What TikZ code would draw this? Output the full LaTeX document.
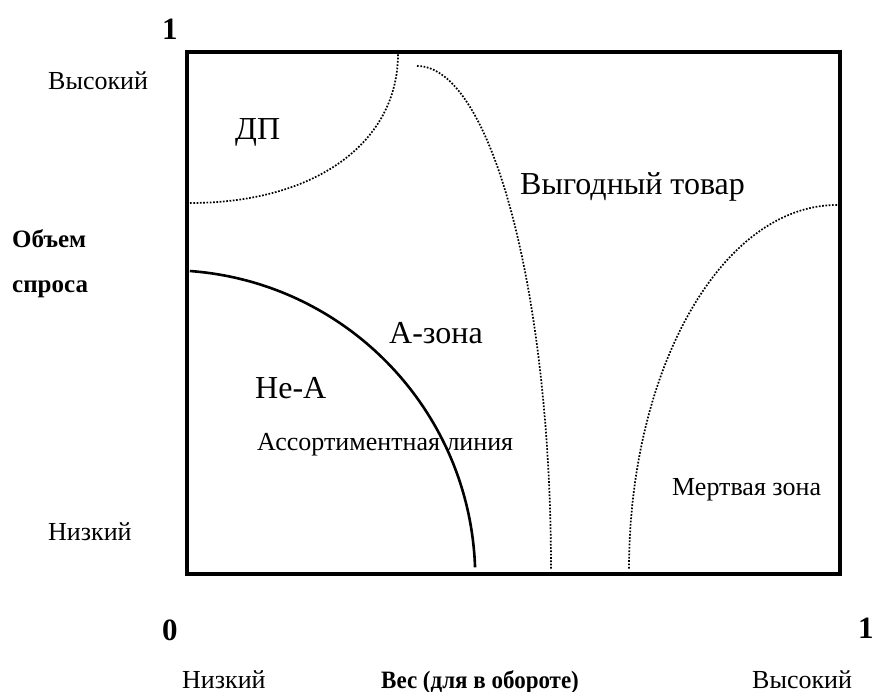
\documentclass[tikz,border=0pt]{standalone}
\usepackage{fontspec}
\setmainfont{Liberation Serif}
\usepackage{tikz}

\begin{document}
\begin{tikzpicture}[x=1pt,y=1pt,
lbl/.style={font=\fontsize{26}{28}\selectfont,inner sep=0pt,anchor=base west},
big/.style={font=\fontsize{32}{34}\selectfont,inner sep=0pt,anchor=base west},
ax/.style={font=\bfseries\fontsize{25}{27}\selectfont,inner sep=0pt,anchor=base west},
num/.style={font=\bfseries\fontsize{31}{33}\selectfont,inner sep=0pt,anchor=base west},
dots/.style={line width=1.7pt,dash pattern=on 1.7pt off 1.6pt},
frame/.style={line width=4.5pt},
solid line/.style={line width=2.6pt}]
\useasboundingbox (0,0) rectangle (872,-692);
% the square
\coordinate (orig) at (187,-574);
\coordinate (corner) at (840,-52);
\draw[frame] (orig) rectangle (corner);
% zone borders
\coordinate (dpstart) at (190,-203);
\coordinate (dpend) at (398,-54);
\draw[dots] (dpstart) .. controls (315,-203) and (398,-143) .. (dpend);
\coordinate (profitstart) at (417,-66);
\draw[dots] (profitstart) arc[start angle=90,end angle=0,x radius=134pt,y radius=504pt];
\coordinate (deadstart) at (837,-205);
\draw[dots] (deadstart) arc[start angle=90,end angle=180,x radius=208pt,y radius=365pt];
\coordinate (linestart) at (189.8,-271);
\draw[solid line] (linestart) arc[start angle=85.8,end angle=2,radius=308pt];
% zone names
\node[big] (dp) at (235,-140) {ДП};
\node[big] (profit) at (520,-195) {Выгодный товар};
\node[big] (azone) at (389,-343) {А-зона};
\node[big] (nona) at (255,-398) {Не-А};
\node[lbl] (assort) at (257,-450) {Ассортиментная линия};
\node[lbl] (dead) at (672,-495) {Мертвая зона};
% axes
\node[num] (yone) at (162,-40) {1};
\node[lbl] (yhigh) at (48,-90) {Высокий};
\node[ax] (ytitle) at (12,-248) {Объем};
\node[ax] (ytitle2) at (12,-293) {спроса};
\node[lbl] (ylow) at (48,-540) {Низкий};
\node[num] (zero) at (162,-640) {0};
\node[num] (xone) at (858,-638) {1};
\node[lbl] (xlow) at (182,-688) {Низкий};
\node[ax,xscale=0.92,transform shape] (xtitle) at (381,-688) {Вес (для в обороте)};
\node[lbl] (xhigh) at (752,-688) {Высокий};
\end{tikzpicture}
\end{document}
